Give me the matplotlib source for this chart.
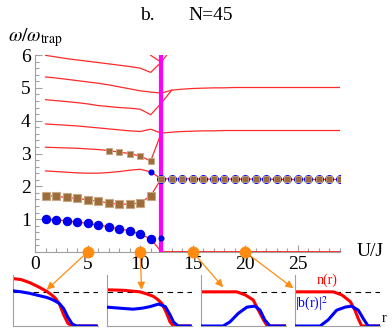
import numpy as np
import matplotlib
matplotlib.use('Agg')
import matplotlib.pyplot as plt
from matplotlib.patches import ConnectionPatch
from matplotlib.ticker import MultipleLocator, FixedLocator

plt.rcParams['font.family'] = ['Liberation Serif', 'DejaVu Serif']
plt.rcParams['mathtext.fontset'] = 'stix'

W, H = 392, 336

# U/J grid
u_left = [1, 2, 3, 4, 5, 6, 7, 8, 9, 10, 11]
u_crit = 12
u_right = [12, 13, 14, 15, 16, 17, 18, 19, 20, 21, 22, 23, 24, 25, 26, 27, 28, 29]

# lowest mode (blue circles) and the mode that goes to zero after the transition
mode_a = [1.00, 0.98, 0.95, 0.91, 0.87, 0.82, 0.77, 0.70, 0.65, 0.54, 0.40]
mode_a_right = [0.01, 0.01, 0.01, 0.01, 0.01, 0.01, 0.01, 0.01, 0.01,
                0.01, 0.01, 0.01, 0.01, 0.01, 0.01, 0.01, 0.01, 0.01]
# second mode (brown squares), breathing-like branch after transition
mode_b = [1.72, 1.70, 1.66, 1.63, 1.59, 1.55, 1.49, 1.46, 1.45, 1.50, 1.71]
mode_b_right = [2.23, 2.23, 2.23, 2.23, 2.22, 2.22, 2.22, 2.22, 2.22,
                2.22, 2.22, 2.21, 2.21, 2.21, 2.21, 2.21, 2.21, 2.21]
mode_c = [2.47, 2.45, 2.43, 2.41, 2.40, 2.40, 2.42, 2.45, 2.49, 2.52, 2.44]
mode_d = [3.19, 3.18, 3.17, 3.16, 3.14, 3.12, 3.09, 3.04, 3.00, 2.92, 2.77]
mode_e = [3.90, 3.88, 3.86, 3.84, 3.81, 3.78, 3.75, 3.72, 3.69, 3.67, 3.74]
mode_e_right = [3.62, 3.65, 3.67, 3.68, 3.69, 3.69, 3.70, 3.70, 3.70,
                3.70, 3.70, 3.70, 3.70, 3.70, 3.70, 3.70, 3.70, 3.70]
mode_f = [4.64, 4.61, 4.58, 4.55, 4.51, 4.46, 4.43, 4.40, 4.38, 4.35, 4.18]
mode_f_crit = 4.53
mode_g = [5.33, 5.30, 5.26, 5.22, 5.18, 5.14, 5.09, 5.03, 4.97, 4.91, 4.87]
mode_g_right = [4.84, 4.93, 4.96, 4.98, 4.99, 5.00, 5.00, 5.01, 5.01,
                5.01, 5.01, 5.01, 5.01, 5.01, 5.01, 5.01, 5.01, 5.01]
mode_h = [5.99, 5.94, 5.89, 5.85, 5.81, 5.77, 5.73, 5.69, 5.65, 5.60, 5.47]
mode_h_tail_u = [12, 13]
mode_h_tail = [5.78, 6.20]
mode_x_u = [10, 11, 12]
mode_x = [6.45, 5.99, 5.78]

square_u = [7, 8, 9, 10, 11]      # squares drawn on the third branch
small_dot_u = [11, 12]
small_dot_w = [2.44, 0.44]

inset_u = [5, 10, 15, 20]

# density profiles in the four insets (r in arbitrary units 0..10)
n_r = [[0, 1, 2, 3, 4, 4.5, 5, 5.5, 6, 6.5, 7, 10],
       [0, 2, 3.9, 4.7, 5.5, 6.0, 6.5, 7.05, 7.45, 7.85, 10],
       [0, 2, 4.2, 5.2, 6.15, 6.75, 7.35, 7.8, 10],
       [0, 2, 4.5, 5.5, 6.5, 7.05, 7.45, 7.85, 10]]
n_v = [[0.93, 0.91, 0.85, 0.77, 0.68, 0.62, 0.55, 0.43, 0.22, 0.05, 0.0, 0.0],
       [0.71, 0.70, 0.67, 0.63, 0.58, 0.52, 0.44, 0.25, 0.08, 0.0, 0.0],
       [0.67, 0.67, 0.67, 0.61, 0.51, 0.31, 0.12, 0.0, 0.0],
       [0.67, 0.67, 0.67, 0.61, 0.48, 0.31, 0.14, 0.0, 0.0]]
b_r = [[0, 1, 2, 3, 4, 4.5, 5, 5.5, 6, 6.5, 7, 7.5, 10],
       [0, 1.5, 3.1, 4.2, 5.1, 6.1, 6.9, 7.45, 7.85, 8.4, 10],
       [0, 2.6, 3.4, 4.4, 5.4, 6.35, 6.95, 7.5, 8.1, 10],
       [0, 2.95, 3.9, 4.9, 5.9, 6.65, 7.45, 8.05, 8.6, 10]]
b_v = [[0.69, 0.67, 0.64, 0.60, 0.56, 0.53, 0.49, 0.44, 0.34, 0.17, 0.04, 0.0, 0.0],
       [0.37, 0.35, 0.33, 0.35, 0.38, 0.43, 0.38, 0.22, 0.08, 0.0, 0.0],
       [0.0, 0.0, 0.08, 0.25, 0.37, 0.39, 0.31, 0.12, 0.0, 0.0],
       [0.0, 0.0, 0.12, 0.31, 0.37, 0.39, 0.31, 0.14, 0.0, 0.0]]
arrow_tip = [(4.0, 0.71), (4.1, 0.71), (2.6, 0.76), (-0.2, 0.74)]

RED = '#ff2a2a'
BLUE = '#0000ee'
BROWN = '#9c6c3a'
ORANGE = '#ff8c10'
GRAY = '#a0a0a0'

fig = plt.figure(figsize=(W / 100, H / 100), dpi=100)
ax = fig.add_axes([35 / W, 84 / H, 305 / W, 197 / H])
ax.set_xlim(0, 29)
ax.set_ylim(0, 6)

# red branches
lw = 0.9
ax.plot(u_left + u_right, mode_a + mode_a_right, color=RED, lw=lw, zorder=2, clip_on=False)
ax.plot(u_left + u_right, mode_b + mode_b_right, color=RED, lw=lw, zorder=2)
ax.plot(u_left + [u_crit], mode_c + [mode_b_right[0]], color=RED, lw=lw, zorder=2)
ax.plot(u_left + [u_crit], mode_d + [mode_e_right[0]], color=RED, lw=lw, zorder=2)
ax.plot(u_left + u_right, mode_e + mode_e_right, color=RED, lw=lw, zorder=2)
ax.plot(u_left + [u_crit, u_right[1]], mode_f + [mode_f_crit, mode_g_right[1]],
        color=RED, lw=lw, zorder=2)
ax.plot(u_left + u_right, mode_g + mode_g_right, color=RED, lw=lw, zorder=2)
ax.plot(u_left + mode_h_tail_u, mode_h + mode_h_tail, color=RED, lw=lw, zorder=2)
ax.plot(mode_x_u, mode_x, color=RED, lw=lw, zorder=2)

# transition line
ax.axvline(u_crit, color='#ff00ff', lw=3, zorder=3)

# markers
ax.plot(u_left, mode_a, 'o', color=BLUE, ms=5.8, zorder=4)
ax.plot(u_right, mode_b_right, 'o', color=BLUE, ms=5.4, zorder=4)
ax.plot(u_left, mode_b, 's', color=BROWN, mec='#c9a782', mew=0.8, ms=5.2, zorder=5)
ax.plot(u_right, mode_b_right, 's', color=BROWN, mec='#c9a782', mew=0.6, ms=4.6, zorder=5)
ax.plot(square_u, mode_d[6:], 's', color=BROWN, mec='#c9a782', mew=0.6, ms=4.2, zorder=5)
ax.plot(small_dot_u, small_dot_w, 'o', color=BLUE, ms=3.4, zorder=5)
ax.plot(inset_u, [0] * len(inset_u), 'o', color=ORANGE, ms=7.5, zorder=6, clip_on=False)

for s in ['top', 'right']:
    ax.spines[s].set_visible(False)
for s in ['left', 'bottom']:
    ax.spines[s].set_color(GRAY)
ax.xaxis.set_major_locator(FixedLocator([0, 5, 10, 15, 20, 25]))
ax.xaxis.set_minor_locator(MultipleLocator(1))
ax.yaxis.set_major_locator(FixedLocator([1, 2, 3, 4, 5, 6]))
ax.yaxis.set_minor_locator(MultipleLocator(0.2))
ax.tick_params(which='both', direction='in', color=GRAY, width=0.8)
ax.tick_params(which='major', length=5, labelsize=14)
ax.tick_params(which='minor', length=3)
ax.tick_params(axis='y', pad=3)
ax.tick_params(axis='x', pad=3)

fig.text(8 / W, 1 - 41 / H, r'$\omega/\omega_{\rm trap}$', fontsize=14, ha='left', va='baseline')
fig.text(140 / W, 1 - 20 / H, 'b.', fontsize=14, ha='left', va='baseline')
fig.text(188 / W, 1 - 20 / H, 'N=45', fontsize=14, ha='left', va='baseline')
fig.text(357 / W, 1 - 256 / H, 'U/J', fontsize=14, ha='left', va='baseline')

# insets
lefts = [12.7, 106.7, 201, 295]
for i in range(4):
    ai = fig.add_axes([lefts[i] / W, 10 / H, 85 / W, 51 / H])
    ai.set_xlim(0, 10)
    ai.set_ylim(0, 1)
    ai.axhline(0.67, color='k', lw=0.8, ls=(0, (5, 4)), zorder=1)
    ai.plot(n_r[i], n_v[i], color='#ff0000', lw=2.2, zorder=2, solid_capstyle='butt')
    ai.plot(b_r[i], b_v[i], color='#0000ff', lw=2.2, zorder=3, solid_capstyle='butt')
    ai.set_xticks([])
    ai.set_yticks([])
    for s in ['top', 'right']:
        ai.spines[s].set_visible(False)
    for s in ['left', 'bottom']:
        ai.spines[s].set_color(GRAY)
    ai.patch.set_alpha(0)
    con = ConnectionPatch(xyA=(inset_u[i], 0), coordsA=ax.transData,
                          xyB=arrow_tip[i], coordsB=ai.transData,
                          arrowstyle='-|>', color=ORANGE, lw=0.9,
                          mutation_scale=11, shrinkA=4, shrinkB=0)
    fig.add_artist(con)
    if i == 3:
        ai.text(3.8, 0.9, 'n(r)', color='#ff0000', fontsize=10, ha='center', va='center')
        ai.text(1.9, 0.43, r'|b(r)|$^2$', color='#0000ff', fontsize=10, ha='center', va='center')
        ai.text(10.2, 0.02, 'r', color='k', fontsize=10, ha='left', va='bottom', clip_on=False)

fig.savefig('out.png', dpi=100)
